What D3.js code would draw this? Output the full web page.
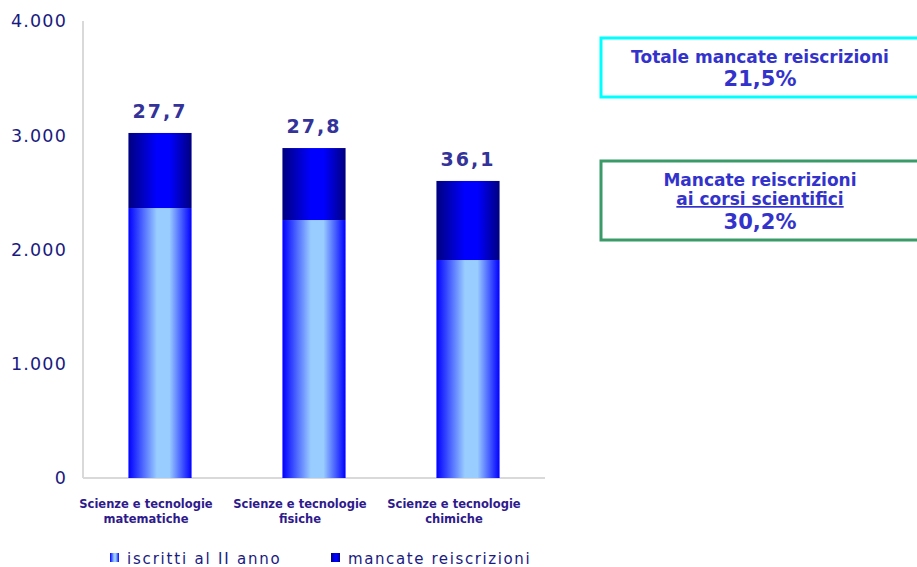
<!DOCTYPE html>
<html><head><meta charset="utf-8">
<script src="https://cdn.jsdelivr.net/npm/d3@7"></script>
<style>body{margin:0;background:#fff}svg{display:block}</style>
</head><body>
<script>
const categories = [["Scienze e tecnologie","matematiche"],["Scienze e tecnologie","fisiche"],["Scienze e tecnologie","chimiche"]];
const iscritti = [2363, 2258, 1908];
const mancate = [657, 630, 692];
const pctLabels = ["27,7","27,8","36,1"];
const yTicks = [0,1000,2000,3000,4000];
const tickLabels = ["0","1.000","2.000","3.000","4.000"];
const seriesNames = ["iscritti al II anno","mancate reiscrizioni"];
const boxes = [
  {lines:["Totale mancate reiscrizioni","21,5%"], underline:[false,false]},
  {lines:["Mancate reiscrizioni","ai corsi scientifici","30,2%"], underline:[false,true,false]}
];

const W=917,H=567;
const svg=d3.select("body").append("svg").attr("width",W).attr("height",H);
const defs=svg.append("defs");
function grad(id,edge,center){
  const g=defs.append("linearGradient").attr("id",id).attr("x1","0").attr("x2","1").attr("y1","0").attr("y2","0");
  g.append("stop").attr("offset","0%").attr("stop-color",edge);
  g.append("stop").attr("offset","45%").attr("stop-color",center);
  g.append("stop").attr("offset","65%").attr("stop-color",center);
  g.append("stop").attr("offset","100%").attr("stop-color",edge);
}
grad("gI","#0000ff","#99ccff");
grad("gM","#000080","#0000ff");

const x=d3.scaleBand().domain(d3.range(categories.length)).range([83,545]).paddingInner(0.59).paddingOuter(0.295);
const y=d3.scaleLinear().domain([0,4000]).range([478,21]);

// axes lines
svg.append("line").attr("x1",83).attr("x2",83).attr("y1",y(4000)).attr("y2",y(0)).attr("stroke","#d9d9d9").attr("stroke-width",2);
svg.append("line").attr("x1",83).attr("x2",545).attr("y1",y(0)).attr("y2",y(0)).attr("stroke","#d9d9d9").attr("stroke-width",2);

// tick labels
svg.selectAll(".yt").data(yTicks).enter().append("text")
  .attr("x",67).attr("y",d=>y(d)).attr("dy","0.36em").attr("text-anchor","end")
  .attr("font-family","DejaVu Sans").attr("font-size",17.5).attr("letter-spacing",1.2)
  .attr("fill","#1a1a80").text((d,i)=>tickLabels[i]);

// bars
const idx=d3.range(categories.length);
svg.selectAll(".bi").data(idx).enter().append("rect")
  .attr("x",i=>x(i)).attr("width",x.bandwidth())
  .attr("y",i=>y(iscritti[i])).attr("height",i=>y(0)-y(iscritti[i])).attr("fill","url(#gI)");
svg.selectAll(".bm").data(idx).enter().append("rect")
  .attr("x",i=>x(i)).attr("width",x.bandwidth())
  .attr("y",i=>y(iscritti[i]+mancate[i])).attr("height",i=>y(iscritti[i])-y(iscritti[i]+mancate[i])).attr("fill","url(#gM)");

// value labels
svg.selectAll(".vl").data(idx).enter().append("text")
  .attr("x",i=>x(i)+x.bandwidth()/2).attr("y",i=>y(iscritti[i]+mancate[i])-15)
  .attr("text-anchor","middle").attr("font-family","DejaVu Sans").attr("font-weight","bold")
  .attr("font-size",19).attr("letter-spacing",2).attr("fill","#333399").text(i=>pctLabels[i]);

// category labels
idx.forEach(i=>{
  const cx=x(i)+x.bandwidth()/2-14;
  const t=svg.append("text").attr("x",cx).attr("y",508).attr("text-anchor","middle")
    .attr("font-family","DejaVu Sans").attr("font-weight","bold").attr("font-size",11.5).attr("fill","#2e1a8c");
  categories[i].forEach((l,k)=>t.append("tspan").attr("x",cx).attr("dy",k?15:0).text(l));
});

// legend
const leg=[{x:110,fill:"url(#gI)",ls:1.8},{x:331,fill:"url(#gM)",ls:1.6}];
leg.forEach((L,k)=>{
  svg.append("rect").attr("x",L.x).attr("y",553).attr("width",9).attr("height",9).attr("fill",L.fill);
  svg.append("text").attr("x",L.x+17).attr("y",564).attr("font-family","DejaVu Sans").attr("font-size",15)
    .attr("letter-spacing",L.ls).attr("fill","#1a1a80").text(seriesNames[k]);
});

// boxes
const bx=[{y:38,h:59,stroke:"#00ffff",fs:[17,21],lh:[23],base:63},{y:161,h:79,stroke:"#3a9a68",fs:[17,17,21],lh:[19,24],base:186}];
boxes.forEach((b,k)=>{
  const B=bx[k];
  svg.append("rect").attr("x",601).attr("y",B.y).attr("width",330).attr("height",B.h)
    .attr("fill","none").attr("stroke",B.stroke).attr("stroke-width",3);
  let yy=B.base;
  b.lines.forEach((l,j)=>{
    svg.append("text").attr("x",760).attr("y",yy).attr("text-anchor","middle")
      .attr("font-family","DejaVu Sans").attr("font-weight","bold").attr("font-size",B.fs[j])
      .attr("fill","#3333cc").attr("text-decoration",b.underline[j]?"underline":null).text(l);
    yy+=B.lh[j]||0;
  });
});
</script>
</body></html>
